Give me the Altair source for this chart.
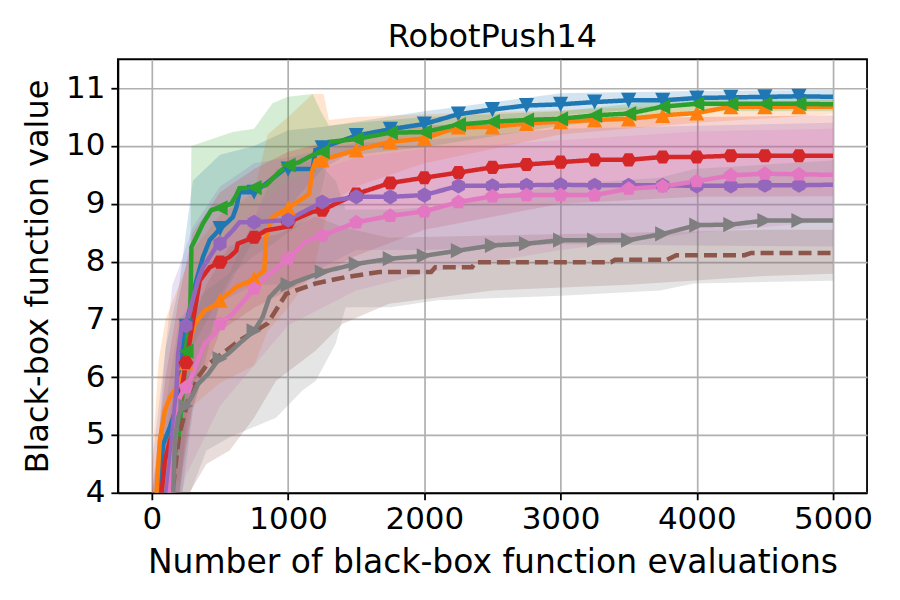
import altair as alt
import pandas as pd

FONT = "DejaVu Sans"

NAMES = ["blue", "orange", "green", "red", "purple", "brown", "pink", "gray"]
COLORS = ["#1f77b4", "#ff7f0e", "#2ca02c", "#d62728", "#9467bd", "#8c564b", "#e377c2", "#7f7f7f"]

X_TICKS = [0, 1000, 2000, 3000, 4000, 5000]
Y_TICKS = [4, 5, 6, 7, 8, 9, 10, 11]

# mean curves: (evaluations, value)
BLUE = [(0, 2.5), (45, 4.0), (83, 4.84), (131, 5.13), (180, 5.48), (205, 5.94), (229, 6.69), (250, 6.88),
        (265, 7.05), (300, 7.4), (326, 7.67), (375, 8.08), (424, 8.37), (500, 8.57), (545, 8.66), (594, 8.77),
        (620, 8.94), (643, 9.2), (750, 9.2), (838, 9.35), (984, 9.62), (1000, 9.6), (1180, 9.6), (1200, 9.93),
        (1250, 9.97), (1500, 10.18), (1750, 10.29), (2000, 10.38), (2250, 10.55), (2500, 10.63), (2750, 10.7),
        (3000, 10.72), (3250, 10.76), (3500, 10.79), (3750, 10.79), (4000, 10.83), (4250, 10.84), (4500, 10.85),
        (4750, 10.86), (5000, 10.85)]
ORANGE = [(0, 3.0), (34, 4.0), (58, 4.9), (95, 5.42), (131, 5.65), (180, 5.82), (217, 6.0), (250, 6.25),
          (278, 6.63), (314, 6.92), (387, 7.15), (460, 7.24), (500, 7.33), (620, 7.56), (750, 7.7), (825, 7.85),
          (838, 8.42), (886, 8.77), (1000, 8.93), (1105, 9.09), (1154, 9.17), (1178, 9.58), (1203, 9.75),
          (1250, 9.76), (1500, 9.93), (1750, 10.07), (2000, 10.13), (2250, 10.33), (2500, 10.33), (2750, 10.39),
          (3000, 10.42), (3250, 10.45), (3500, 10.47), (3750, 10.53), (4000, 10.57), (4250, 10.68), (4500, 10.68),
          (4750, 10.68), (5000, 10.68)]
GREEN = [(0, 2.0), (107, 4.0), (144, 4.44), (192, 4.9), (217, 5.48), (241, 6.17), (250, 6.45), (265, 6.86),
         (280, 7.0), (290, 8.25), (326, 8.42), (375, 8.66), (436, 8.89), (500, 8.93), (582, 9.0), (620, 9.15),
         (643, 9.27), (750, 9.28), (838, 9.32), (935, 9.55), (1000, 9.67), (1081, 9.72), (1178, 9.84),
         (1250, 9.9), (1300, 10.07), (1500, 10.12), (1750, 10.23), (2000, 10.24), (2250, 10.37), (2500, 10.42),
         (2750, 10.45), (3000, 10.47), (3250, 10.53), (3500, 10.56), (3750, 10.68), (4000, 10.73), (4250, 10.73),
         (4500, 10.73), (4750, 10.73), (5000, 10.72)]
RED = [(0, 3.0), (71, 4.0), (95, 4.55), (131, 4.9), (168, 5.13), (205, 5.59), (229, 5.94), (250, 6.25),
       (278, 6.63), (302, 6.98), (351, 7.67), (424, 7.9), (500, 7.99), (570, 8.08), (620, 8.19), (630, 8.31),
       (750, 8.42), (838, 8.54), (984, 8.6), (1000, 8.68), (1178, 8.86), (1250, 8.89), (1500, 9.17),
       (1750, 9.36), (2000, 9.45), (2250, 9.54), (2500, 9.63), (2750, 9.68), (3000, 9.72), (3250, 9.76),
       (3500, 9.76), (3750, 9.81), (4000, 9.81), (4250, 9.83), (4500, 9.83), (4750, 9.83), (5000, 9.83)]
PURPLE = [(0, 3.0), (107, 4.0), (131, 4.55), (156, 5.19), (180, 5.77), (192, 6.4), (217, 6.86), (250, 6.89),
          (290, 7.25), (338, 7.67), (375, 7.9), (424, 8.08), (484, 8.3), (500, 8.31), (545, 8.42), (594, 8.54),
          (643, 8.68), (750, 8.68), (1000, 8.72), (1250, 9.03), (1500, 9.12), (1750, 9.12), (2000, 9.15),
          (2250, 9.31), (2500, 9.31), (2750, 9.32), (3000, 9.33), (3250, 9.32), (3500, 9.32), (3750, 9.32),
          (4000, 9.31), (4250, 9.31), (4500, 9.32), (4750, 9.32), (5000, 9.33)]
BROWN = [(0, 2.5), (150, 4.0), (200, 5.0), (265, 5.59), (338, 6.0), (400, 6.2), (640, 6.63), (850, 6.93),
         (985, 7.44), (1057, 7.5), (1200, 7.62), (1420, 7.73), (1670, 7.82), (2050, 7.82), (2080, 7.9),
         (2350, 7.9), (2375, 7.99), (3370, 7.99), (3400, 8.03), (3780, 8.03), (3850, 8.11), (4350, 8.11),
         (4400, 8.15), (5000, 8.15)]
PINK = [(0, 3.0), (131, 4.0), (156, 4.55), (180, 5.13), (205, 5.65), (241, 5.82), (250, 5.82), (290, 6.0),
        (338, 6.29), (387, 6.58), (460, 6.75), (500, 6.92), (594, 7.1), (750, 7.53), (850, 7.76), (1000, 8.05),
        (1130, 8.35), (1250, 8.45), (1500, 8.68), (1750, 8.79), (2000, 8.87), (2250, 9.03), (2500, 9.13),
        (2750, 9.15), (3000, 9.15), (3250, 9.15), (3500, 9.26), (3750, 9.3), (4000, 9.39), (4250, 9.49),
        (4500, 9.52), (4750, 9.51), (5000, 9.5)]
GRAY = [(0, 2.5), (156, 4.0), (168, 4.9), (192, 5.3), (217, 5.48), (250, 5.5), (290, 5.65), (338, 5.88),
        (411, 6.05), (484, 6.29), (500, 6.32), (557, 6.4), (650, 6.6), (750, 6.8), (813, 7.04), (862, 7.38),
        (911, 7.5), (959, 7.62), (1000, 7.6), (1250, 7.82), (1500, 7.96), (1750, 8.05), (2000, 8.1),
        (2250, 8.19), (2500, 8.28), (2750, 8.31), (3000, 8.37), (3250, 8.37), (3500, 8.37), (3750, 8.48),
        (4000, 8.63), (4250, 8.64), (4500, 8.71), (4750, 8.71), (5000, 8.71)]

# shaded bands: (evaluations, lower, upper)
BLUE_BAND = [(0, 1.5, 3.5), (100, 3.3, 6.5), (200, 3.6, 7.6), (300, 5.4, 9.4), (500, 7.3, 9.85), (750, 8.4, 10.0),
             (1000, 8.93, 10.27), (1250, 9.6, 10.33), (1500, 9.94, 10.42), (2000, 10.16, 10.6),
             (3000, 10.53, 10.91), (4000, 10.71, 10.95), (5000, 10.73, 10.97)]
ORANGE_BAND = [(0, 2.0, 4.5), (50, 3.5, 6.3), (100, 4.2, 7.0), (200, 4.2, 7.6), (300, 5.5, 8.2), (500, 5.9, 8.8),
               (750, 6.2, 9.2), (850, 6.8, 10.2), (1000, 7.2, 10.5), (1180, 7.8, 10.9), (1260, 8.6, 10.9),
               (1300, 9.0, 10.45), (1500, 9.3, 10.5), (2000, 9.7, 10.55), (3000, 10.2, 10.62),
               (4000, 10.4, 10.72), (5000, 10.55, 10.8)]
GREEN_BAND = [(0, 1.5, 2.5), (100, 3.5, 4.5), (200, 3.8, 6.0), (280, 6.0, 7.5), (290, 6.5, 10.0),
              (594, 7.8, 10.24), (750, 8.1, 10.3), (885, 8.3, 10.74), (1000, 8.5, 10.85), (1180, 8.8, 10.9),
              (1240, 9.2, 10.6), (1300, 9.8, 10.35), (1500, 9.85, 10.4), (2000, 9.98, 10.5),
              (3000, 10.35, 10.6), (4000, 10.6, 10.85), (5000, 10.6, 10.85)]
RED_BAND = [(0, 2.0, 4.0), (100, 3.5, 6.0), (200, 4.0, 7.4), (300, 5.5, 8.5), (500, 6.8, 9.2), (750, 7.2, 9.6),
            (1000, 7.5, 9.9), (1500, 8.1, 10.2), (2000, 8.55, 10.35), (3000, 9.0, 10.45), (4000, 9.12, 10.5),
            (5000, 9.13, 10.53)]
PURPLE_BAND = [(0, 2.0, 4.5), (100, 3.0, 6.5), (150, 3.5, 7.6), (200, 4.0, 7.9), (300, 5.8, 8.6),
               (500, 7.3, 9.3), (750, 7.6, 9.7), (1000, 7.6, 9.8), (1500, 8.2, 10.05), (2000, 8.2, 10.1),
               (3000, 8.3, 10.3), (4000, 8.28, 10.35), (5000, 8.26, 10.4)]
BROWN_BAND = [(0, 1.5, 3.5), (200, 3.7, 6.3), (400, 4.5, 7.6), (570, 4.73, 8.27), (750, 5.3, 8.4),
              (911, 5.94, 8.46), (1203, 6.46, 8.78), (1397, 6.92, 8.6), (1740, 7.27, 8.41), (2500, 7.5, 8.45),
              (3500, 7.6, 8.5), (4500, 7.75, 8.55), (5000, 7.79, 8.55)]
PINK_BAND = [(0, 1.5, 3.5), (150, 3.3, 5.8), (250, 4.3, 7.3), (500, 5.5, 8.3), (750, 6.2, 8.9), (1000, 6.9, 9.4),
             (1500, 7.5, 9.8), (2000, 7.8, 9.95), (3000, 8.2, 10.1), (4000, 8.5, 10.25), (5000, 8.7, 10.3)]
GRAY_BAND = [(0, 1.0, 4.0), (200, 3.5, 7.0), (400, 4.73, 7.5), (570, 4.96, 7.8), (911, 5.3, 9.6),
             (1105, 5.77, 9.7), (1203, 5.94, 9.75), (1349, 6.58, 9.4), (1422, 7.21, 8.9), (1750, 7.21, 8.9),
             (2100, 7.33, 8.95), (3000, 7.41, 9.33), (3730, 7.5, 9.45), (3980, 7.62, 9.6), (5000, 7.67, 9.75)]

# matplotlib-like marker outlines in a [-1, 1] box
SHAPES = {
    "blue": "M0,1L-1,-1L1,-1Z",            # v
    "orange": "M0,-1L-1,1L1,1Z",           # ^
    "green": "M-1,0L1,-1L1,1Z",            # <
    "red": "M1,0L0.5,0.866L-0.5,0.866L-1,0L-0.5,-0.866L0.5,-0.866Z",   # H
    "purple": "M0,-1L0.866,-0.5L0.866,0.5L0,1L-0.866,0.5L-0.866,-0.5Z",  # h
    "pink": "M0,-1L0.951,-0.309L0.588,0.809L-0.588,0.809L-0.951,-0.309Z",  # p
    "gray": "M1,0L-1,-1L-1,1Z",            # >
}

LINES = [BLUE, ORANGE, GREEN, RED, PURPLE, BROWN, PINK, GRAY]
BANDS = [BLUE_BAND, ORANGE_BAND, GREEN_BAND, RED_BAND, PURPLE_BAND, BROWN_BAND, PINK_BAND, GRAY_BAND]

line_rows, band_rows, mark_rows = [], [], []
for i, (name, pts, band) in enumerate(zip(NAMES, LINES, BANDS)):
    for x, y in pts:
        line_rows.append({"series": name, "order": i, "x": x, "y": y})
        if name in SHAPES and x % 250 == 0 and 0 < x < 5000:
            mark_rows.append({"series": name, "order": i, "x": x, "y": y})
    for x, lo, hi in band:
        band_rows.append({"series": name, "order": i, "x": x, "lo": lo, "hi": hi})

line_df = pd.DataFrame(line_rows)
band_df = pd.DataFrame(band_rows)
mark_df = pd.DataFrame(mark_rows)

xscale = alt.Scale(domain=[-250, 5250], nice=False, zero=False)
yscale = alt.Scale(domain=[4, 11.5], nice=False, zero=False)
color = alt.Color("series:N", scale=alt.Scale(domain=NAMES, range=COLORS), legend=None)

x_enc = alt.X("x:Q", scale=xscale,
              axis=alt.Axis(values=X_TICKS, format="d", title="Number of black-box function evaluations",
                            labelPadding=5, titlePadding=12, titleFontSize=33))

bands = alt.Chart(band_df).mark_area(opacity=0.2, clip=True, interpolate="linear").encode(
    x=x_enc,
    y=alt.Y("lo:Q", scale=yscale, stack=None,
            axis=alt.Axis(values=Y_TICKS, format="d", title="Black-box function value",
                          labelPadding=6, titlePadding=11)),
    y2="hi:Q",
    color=color,
    detail="series:N",
    order="order:Q",
)

lines = alt.Chart(line_df).mark_line(strokeWidth=4.5, clip=True).encode(
    x=alt.X("x:Q", scale=xscale),
    y=alt.Y("y:Q", scale=yscale),
    color=color,
    strokeDash=alt.StrokeDash("series:N", scale=alt.Scale(
        domain=NAMES, range=[[1, 0], [1, 0], [1, 0], [1, 0], [1, 0], [13, 6], [1, 0], [1, 0]]), legend=None),
    order="x:Q",
)

mark_names = [n for n in NAMES if n in SHAPES]
points = alt.Chart(mark_df).mark_point(filled=True, size=230, opacity=1, strokeWidth=0, clip=True).encode(
    x=alt.X("x:Q", scale=xscale),
    y=alt.Y("y:Q", scale=yscale),
    color=color,
    shape=alt.Shape("series:N", scale=alt.Scale(domain=mark_names, range=[SHAPES[n] for n in mark_names]),
                    legend=None),
)

chart = alt.layer(bands, lines, points).properties(
    width=750,
    height=434,
    title=alt.TitleParams("RobotPush14", font=FONT, fontSize=32, fontWeight="normal", color="black",
                          baseline="alphabetic", offset=-20),
    autosize=alt.AutoSizeParams(type="none"),
    padding={"left": 110, "top": 51, "right": 25, "bottom": 90},
).configure_view(
    stroke="black", strokeWidth=1.8
).configure_axis(
    domainColor="black", domainWidth=1.8, tickColor="black", tickWidth=1.8, tickSize=7,
    grid=True, gridColor="#b0b0b0", gridWidth=1.7,
    labelFont=FONT, labelFontSize=31, labelColor="black",
    titleFont=FONT, titleFontSize=32, titleFontWeight="normal", titleColor="black",
)

chart.save("out.html", embed_options={"renderer": "svg", "actions": False})
